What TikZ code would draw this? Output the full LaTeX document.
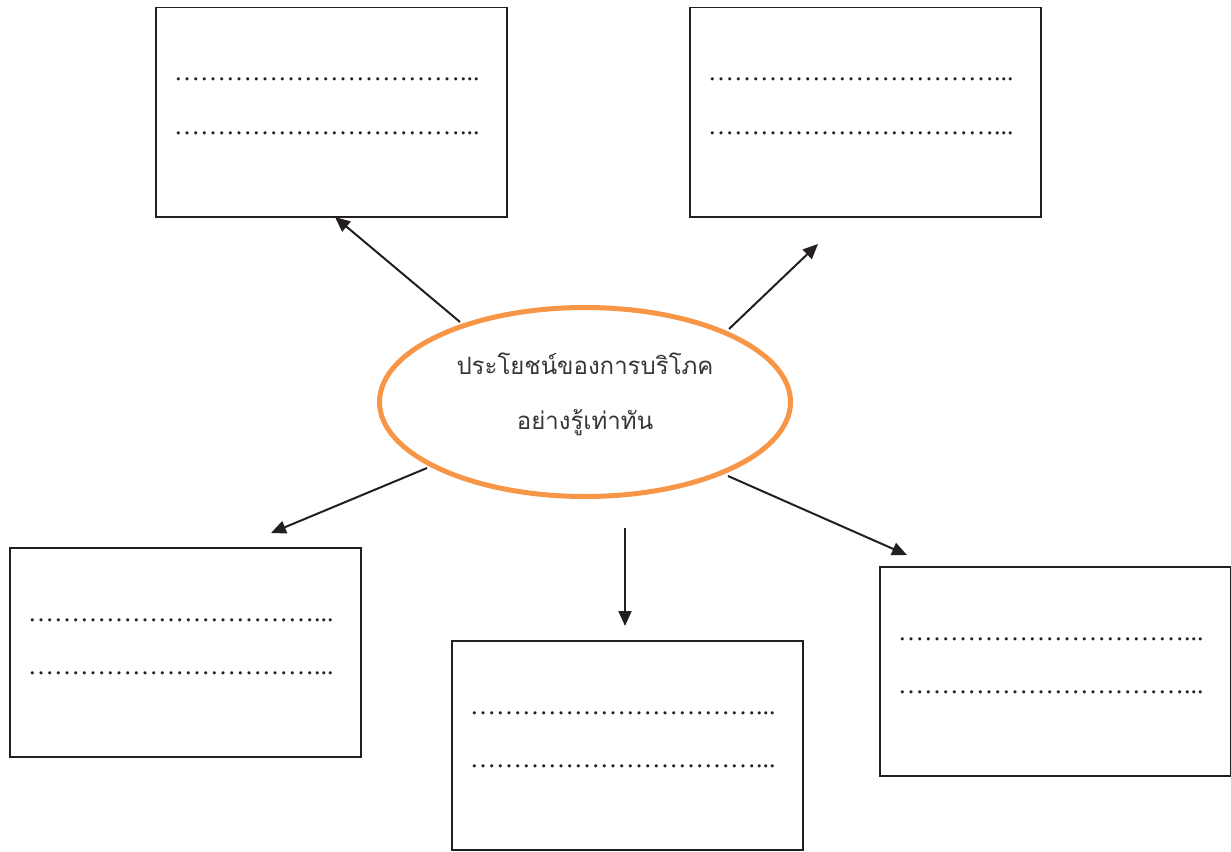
\documentclass[tikz,border=0pt]{standalone}
\usepackage{fontspec}
\setmainfont{Liberation Serif}
\newfontfamily\thaifont[Script=Thai]{Loma}
\usetikzlibrary{arrows.meta,shapes.geometric}
\definecolor{ink}{HTML}{231F20}
\definecolor{orng}{HTML}{F79646}
\newcommand\myell{…}
\newcommand\myrow{\myell\myell\myell\myell\myell\myell\myell\myell\myell\myell\myell...}
\begin{document}
\begin{tikzpicture}[x=1pt,y=-1pt,
  box/.style={draw=ink, line width=1.5pt, minimum width=351pt, minimum height=209pt, inner sep=0pt, anchor=north west},
  dotline/.style={anchor=base west, inner sep=0pt, font=\fontsize{26}{26}\selectfont, text=ink},
  conn/.style={draw=ink, line width=2pt, -{Triangle[length=15pt,width=13pt]}}]
\useasboundingbox (0,0) rectangle (1231,851);
% boxes
\node[box] (b1) at (155,7) {};
\node[box] (b2) at (689,7) {};
\node[box] (b3) at (9,547) {};
\node[box] (b4) at (451,640) {};
\node[box] (b5) at (879,566) {};
% dotted lines
\foreach \b in {b1,b2,b3,b4,b5}{
  \node[dotline] (\b l1) at ([shift={(19,74)}]\b.north west) {\myrow};
  \node[dotline] (\b l2) at ([shift={(19,127)}]\b.north west) {\myrow};
}
% ellipse
\node[ellipse, draw=orng, line width=5pt, minimum width=411pt, minimum height=189pt, inner sep=0pt] (ell) at (585,402) {};
\node[font=\thaifont\fontsize{24}{55}\selectfont, align=center, text=ink!90] (title) at (585,394) {ประโยชน์ของการบริโภค\\อย่างรู้เท่าทัน};
% connectors
\coordinate (s1) at (460,322); \coordinate (t1) at (335,217);
\coordinate (s2) at (729,329); \coordinate (t2) at (818,244);
\coordinate (s3) at (427,468); \coordinate (t3) at (271,533);
\coordinate (s4) at (625,528); \coordinate (t4) at (625,626);
\coordinate (s5) at (728,476); \coordinate (t5) at (907,555);
\draw[conn] (s1) -- (t1);
\draw[conn] (s2) -- (t2);
\draw[conn] (s3) -- (t3);
\draw[conn] (s4) -- (t4);
\draw[conn] (s5) -- (t5);
\end{tikzpicture}
\end{document}
